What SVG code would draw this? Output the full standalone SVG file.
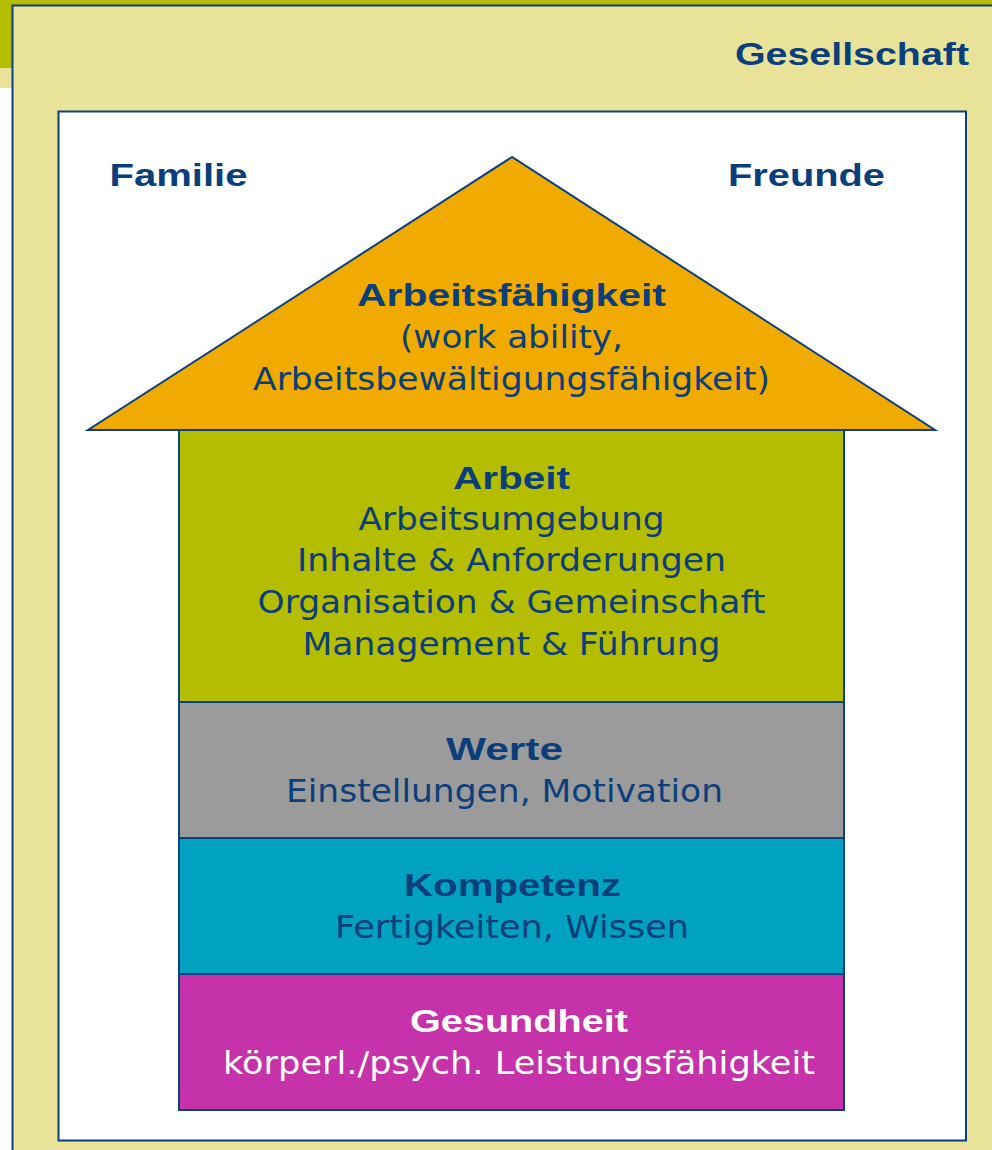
<svg xmlns="http://www.w3.org/2000/svg" width="992" height="1150" viewBox="0 0 992 1150">
<style>
.b{font-family:"Liberation Sans",Arial,sans-serif;font-weight:bold;font-size:31.5px;fill:#0a3f7c}
.r{font-family:"DejaVu Sans",Verdana,sans-serif;font-size:32px;fill:#0a3f7c}
.w{fill:#ffffff}
.ln{stroke:#0a4080;stroke-width:2}
</style>
<rect width="992" height="1150" fill="#ffffff"/>
<rect x="0" y="0" width="992" height="6" fill="#b5bd00"/>
<rect x="0" y="0" width="13" height="68" fill="#b5bd00"/>
<rect x="0" y="68" width="13" height="20" fill="#e8e398"/>
<g id="gesellschaft">
<rect x="12.5" y="5.5" width="990" height="1160" fill="#e8e398" class="ln"/>
<text class="b" x="852" y="65" text-anchor="middle" textLength="234" lengthAdjust="spacingAndGlyphs">Gesellschaft</text>
</g>
<g id="umfeld">
<rect x="58.5" y="111.5" width="907.5" height="1029" fill="#ffffff" class="ln"/>
<text class="b" x="178.5" y="186" text-anchor="middle" textLength="138" lengthAdjust="spacingAndGlyphs">Familie</text>
<text class="b" x="806.5" y="186" text-anchor="middle" textLength="157" lengthAdjust="spacingAndGlyphs">Freunde</text>
</g>
<g id="arbeitsfaehigkeit">
<polygon points="512,157 88,430 935,430" fill="#f0aa00" class="ln"/>
<text class="b" x="511.5" y="306" text-anchor="middle" textLength="309" lengthAdjust="spacingAndGlyphs">Arbeitsfähigkeit</text>
<text class="r" x="511.5" y="348" text-anchor="middle" textLength="223" lengthAdjust="spacingAndGlyphs">(work ability,</text>
<text class="r" x="511.5" y="390" text-anchor="middle" textLength="517" lengthAdjust="spacingAndGlyphs">Arbeitsbewältigungsfähigkeit)</text>
</g>
<g id="arbeit">
<rect x="179" y="430" width="665" height="272" fill="#b5bd00" class="ln"/>
<text class="b" x="511.5" y="489" text-anchor="middle" textLength="117" lengthAdjust="spacingAndGlyphs">Arbeit</text>
<text class="r" x="511.5" y="530" text-anchor="middle" textLength="306" lengthAdjust="spacingAndGlyphs">Arbeitsumgebung</text>
<text class="r" x="511.5" y="571" text-anchor="middle" textLength="429" lengthAdjust="spacingAndGlyphs">Inhalte &amp; Anforderungen</text>
<text class="r" x="511.5" y="613" text-anchor="middle" textLength="508" lengthAdjust="spacingAndGlyphs">Organisation &amp; Gemeinschaft</text>
<text class="r" x="511.5" y="655" text-anchor="middle" textLength="418" lengthAdjust="spacingAndGlyphs">Management &amp; Führung</text>
</g>
<g id="werte">
<rect x="179" y="702" width="665" height="136" fill="#9b9b9b" class="ln"/>
<text class="b" x="504.5" y="760" text-anchor="middle" textLength="117" lengthAdjust="spacingAndGlyphs">Werte</text>
<text class="r" x="504.5" y="802" text-anchor="middle" textLength="437" lengthAdjust="spacingAndGlyphs">Einstellungen, Motivation</text>
</g>
<g id="kompetenz">
<rect x="179" y="838" width="665" height="136" fill="#00a1c1" class="ln"/>
<text class="b" x="512.5" y="896" text-anchor="middle" textLength="217" lengthAdjust="spacingAndGlyphs">Kompetenz</text>
<text class="r" x="512" y="938" text-anchor="middle" textLength="354" lengthAdjust="spacingAndGlyphs">Fertigkeiten, Wissen</text>
</g>
<g id="gesundheit">
<rect x="179" y="974" width="665" height="136" fill="#c532a9" class="ln"/>
<text class="b w" x="519" y="1032" text-anchor="middle" textLength="218" lengthAdjust="spacingAndGlyphs">Gesundheit</text>
<text class="r w" x="519" y="1074" text-anchor="middle" textLength="592" lengthAdjust="spacingAndGlyphs">körperl./psych. Leistungsfähigkeit</text>
</g>
<g id="connectors"></g>
</svg>
